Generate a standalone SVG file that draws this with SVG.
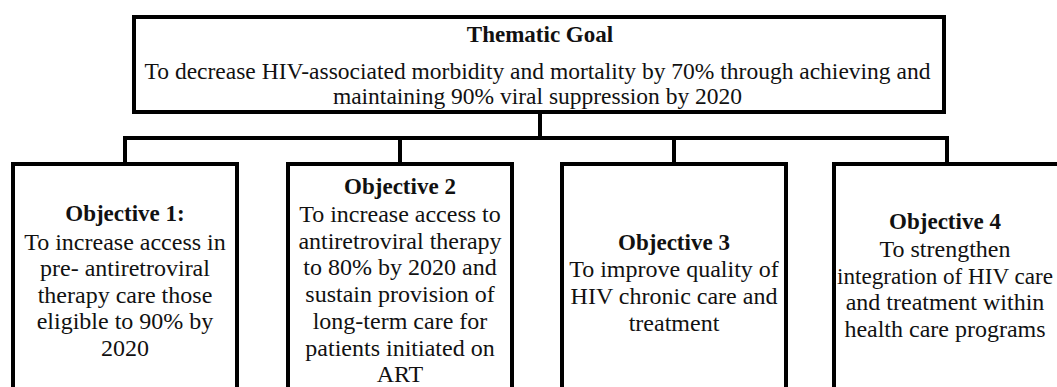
<svg xmlns="http://www.w3.org/2000/svg" width="1057" height="387" viewBox="0 0 1057 387">
<style>
.box{fill:#fff;stroke:#000;stroke-width:4}
.con{fill:none;stroke:#000;stroke-width:4;stroke-linejoin:miter;stroke-linecap:square}
text{font-family:"Liberation Serif","Times New Roman",serif;fill:#111;text-anchor:middle}
.h{font-weight:bold;font-size:23px}
.t{font-size:23.5px}
.b{font-size:24px}
</style>
<rect width="1057" height="387" fill="#fff"/>
<g id="connectors">
<path class="con" d="M540,112 V138 M125,164 V138 H947 V164 M400,138 V164 M674,138 V164"/>
</g>
<g id="goal">
<rect class="box" x="134" y="17" width="810" height="95"/>
<text class="h" x="540" y="42">Thematic Goal</text>
<text class="t" x="537.5" y="79">To decrease HIV-associated morbidity and mortality by 70% through achieving and</text>
<text class="t" x="537.5" y="104">maintaining 90% viral suppression by 2020</text>
</g>
<g id="obj1">
<rect class="box" x="13" y="164" width="224" height="240"/>
<text class="h" x="125" y="221">Objective 1:</text>
<text class="b" x="125" y="249.5">To increase access in</text>
<text class="b" x="125" y="276">pre- antiretroviral</text>
<text class="b" x="125" y="302.5">therapy care those</text>
<text class="b" x="125" y="329">eligible to 90% by</text>
<text class="b" x="125" y="355.5">2020</text>
</g>
<g id="obj2">
<rect class="box" x="288" y="164" width="224" height="240"/>
<text class="h" x="400" y="194">Objective 2</text>
<text class="b" x="400" y="222">To increase access to</text>
<text class="b" x="400" y="248.7">antiretroviral therapy</text>
<text class="b" x="400" y="275.4">to 80% by 2020 and</text>
<text class="b" x="400" y="302">sustain provision of</text>
<text class="b" x="400" y="328.8">long-term care for</text>
<text class="b" x="400" y="355.5">patients initiated on</text>
<text class="b" x="400" y="382.2">ART</text>
</g>
<g id="obj3">
<rect class="box" x="562" y="164" width="224" height="240"/>
<text class="h" x="674" y="250">Objective 3</text>
<text class="b" x="674" y="277">To improve quality of</text>
<text class="b" x="674" y="304">HIV chronic care and</text>
<text class="b" x="674" y="330.5">treatment</text>
</g>
<g id="obj4">
<rect class="box" x="834" y="164" width="240" height="240"/>
<text class="h" x="945" y="229">Objective 4</text>
<text class="b" x="945" y="257">To strengthen</text>
<text class="b" x="945" y="283.5" textLength="216" lengthAdjust="spacingAndGlyphs">integration of HIV care</text>
<text class="b" x="945" y="310">and treatment within</text>
<text class="b" x="945" y="336.5">health care programs</text>
</g>
</svg>
